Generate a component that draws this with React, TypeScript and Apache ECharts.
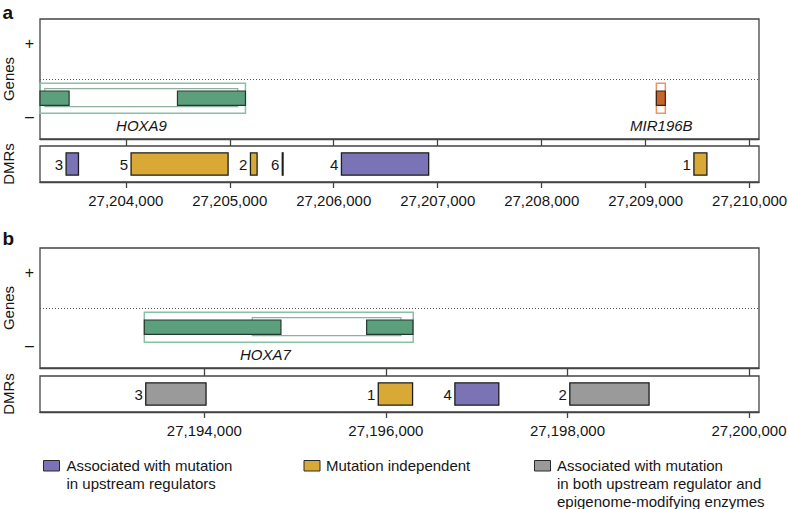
import React, { useEffect, useRef } from 'react';
import * as echarts from 'echarts';

// ---------- data ----------
const AXIS_A = [27203175, 27210090];
const TICKS_A = [27204000, 27205000, 27206000, 27207000, 27208000, 27209000, 27210000];
const AXIS_B = [27192190, 27200110];
const TICKS_B = [27194000, 27196000, 27198000, 27200000];

// gene parts: [start, end, kind, geneIndex]; kind 0 = locus, 1 = transcript, 2 = exon
const GENE_A_NAMES = ['HOXA9', 'MIR196B'];
const GENE_A_TYPE = [0, 1]; // 0 = protein coding, 1 = miRNA
const GENE_A_LABEL_POS = [27204151, 27209151];
const GENE_A_PARTS = [
  [27202900, 27205151, 0, 0],
  [27203221, 27205077, 1, 0],
  [27202900, 27203455, 2, 0],
  [27204497, 27205151, 2, 0],
  [27209103, 27209189, 0, 1],
  [27209103, 27209189, 2, 1],
];
const GENE_B_NAMES = ['HOXA7'];
const GENE_B_TYPE = [0];
const GENE_B_LABEL_POS = [27194672];
const GENE_B_PARTS = [
  [27193339, 27196301, 0, 0],
  [27194528, 27196166, 1, 0],
  [27193339, 27194844, 2, 0],
  [27195788, 27196298, 2, 0],
];

// DMRs
const DMR_A_IDS = ['3', '5', '2', '6', '4', '1'];
const DMR_A_START = [27203426, 27204051, 27205199, 27205505, 27206074, 27209464];
const DMR_A_END = [27203545, 27204984, 27205263, 27205512, 27206913, 27209589];
const DMR_A_CLASS = [0, 1, 1, 1, 0, 1];
const DMR_B_IDS = ['3', '1', '4', '2'];
const DMR_B_START = [27193355, 27195916, 27196760, 27198026];
const DMR_B_END = [27194019, 27196294, 27197244, 27198899];
const DMR_B_CLASS = [2, 1, 0, 2];

const CLASS_LABELS = [
  'Associated with mutation\nin upstream regulators',
  'Mutation independent',
  'Associated with mutation\nin both upstream regulator and\nepigenome-modifying enzymes',
];

// ---------- styles ----------
const FONT = '"Liberation Sans", Arial, Helvetica, sans-serif';
const TXT = '#161616';
const LINE = '#444444';
const CLASS_COLORS = ['#7a73b5', '#d9a935', '#9a9a9a'];
const GENE_FILL = ['#5b9f7c', '#c8632b'];
const GENE_OUTLINE = ['#86c2a4', '#e8956c'];
const GENE_INNER = ['#8fb09f', '#e8956c'];
const GENE_BORDER = ['#26392e', '#3b2417'];
const LEVELS = [
  [0.215, 0.465],
  [0.27, 0.42],
  [0.28, 0.4],
];

function geneRenderer(types: number[]) {
  return (params: any, api: any) => {
    const s = api.value(0);
    const e = api.value(1);
    const kind = api.value(2);
    const g = api.value(3);
    const t = types[g];
    const cs = params.coordSys;
    const [lo, hi] = LEVELS[kind];
    const a = api.coord([s, hi]);
    const b = api.coord([e, lo]);
    const x0 = Math.max(a[0], cs.x);
    const x1 = Math.min(b[0], cs.x + cs.width);
    if (x1 <= x0) return null;
    const shape = { x: x0, y: a[1], width: x1 - x0, height: b[1] - a[1] };
    if (kind === 0) {
      return { type: 'rect', shape, style: { fill: 'none', stroke: GENE_OUTLINE[t], lineWidth: 1.5 } };
    }
    if (kind === 1) {
      return { type: 'rect', shape, style: { fill: 'none', stroke: GENE_INNER[t], lineWidth: 1.1 } };
    }
    return { type: 'rect', shape, style: { fill: GENE_FILL[t], stroke: GENE_BORDER[t], lineWidth: 1.2 } };
  };
}

function labelRenderer(names: string[]) {
  return (params: any, api: any) => {
    const p = api.coord([api.value(0), 0.11]);
    return {
      type: 'text',
      x: p[0],
      y: p[1],
      style: {
        text: names[params.dataIndex],
        font: 'italic 15px ' + FONT,
        fill: TXT,
        align: 'center',
        verticalAlign: 'middle',
      },
    };
  };
}

function dmrRenderer(ids: string[], classes: number[]) {
  return (params: any, api: any) => {
    const i = params.dataIndex;
    const a = api.coord([api.value(0), 0.81]);
    const b = api.coord([api.value(1), 0.19]);
    const w = Math.max(b[0] - a[0], 0.8);
    return {
      type: 'group',
      children: [
        {
          type: 'rect',
          shape: { x: a[0], y: a[1], width: w, height: b[1] - a[1] },
          style: { fill: CLASS_COLORS[classes[i]], stroke: '#1e1e1e', lineWidth: 1.3 },
        },
        {
          type: 'text',
          x: a[0] - 3,
          y: (a[1] + b[1]) / 2,
          style: { text: ids[i], font: '15px ' + FONT, fill: TXT, align: 'right', verticalAlign: 'middle' },
        },
      ],
    };
  };
}

function xAxisFor(grid: number, range: number[], ticks: number[], labels: boolean, tickLen: number) {
  return {
    type: 'value',
    gridIndex: grid,
    min: range[0],
    max: range[1],
    position: 'bottom',
    axisLine: { show: true, lineStyle: { color: LINE, width: 1.3 } },
    splitLine: { show: false },
    axisTick: { show: true, inside: false, length: tickLen, customValues: ticks, lineStyle: { color: LINE, width: 1.3 } },
    axisLabel: {
      show: labels,
      customValues: ticks,
      margin: 11,
      fontSize: 15,
      fontFamily: FONT,
      color: TXT,
      formatter: (v: number) => Number(v).toLocaleString('en-US'),
    },
  };
}

function yGenes(grid: number) {
  return {
    type: 'value',
    gridIndex: grid,
    min: 0,
    max: 1,
    axisLine: { show: false },
    splitLine: { show: false },
    axisTick: { show: false },
    axisLabel: {
      show: true,
      customValues: [0.19, 0.8],
      margin: 6,
      fontSize: 16,
      fontFamily: FONT,
      color: TXT,
      formatter: (v: number) => (v > 0.5 ? '+' : '\u2013'),
    },
  };
}

function yDmr(grid: number) {
  return {
    type: 'value',
    gridIndex: grid,
    min: 0,
    max: 1,
    axisLine: { show: false },
    splitLine: { show: false },
    axisTick: { show: false },
    axisLabel: { show: false },
  };
}

const gridBase = { left: 40, width: 719, show: true, borderColor: LINE, borderWidth: 1.3, backgroundColor: 'transparent', containLabel: false, outerBoundsMode: 'none' };

const dotted = {
  silent: true,
  symbol: ['none', 'none'],
  label: { show: false },
  lineStyle: { type: [1, 2], color: '#555', width: 1 },
  emphasis: { disabled: true },
  data: [{ yAxis: 0.5 }],
};

function sideLabel(text: string, y: number) {
  return {
    type: 'text',
    x: 8.5,
    y,
    rotation: Math.PI / 2,
    style: { text, font: '15px ' + FONT, fill: TXT, align: 'center', verticalAlign: 'middle' },
  };
}

const LEGEND_SQ_X = [43.5, 304, 534.5];
const LEGEND_TX_X = [66.5, 326, 557];

const legendGraphics: any[] = [];
CLASS_LABELS.forEach((lab, i) => {
  legendGraphics.push({
    type: 'rect',
    shape: { x: LEGEND_SQ_X[i], y: 460.5, width: 16, height: 10.5 },
    style: { fill: CLASS_COLORS[i], stroke: '#2a2a2a', lineWidth: 1 },
  });
  legendGraphics.push({
    type: 'text',
    x: LEGEND_TX_X[i],
    y: 456.8,
    style: { text: lab, font: '15px ' + FONT, fill: TXT, lineHeight: 17.8, align: 'left', verticalAlign: 'top' },
  });
});

const option: any = {
  animation: false,
  backgroundColor: '#ffffff',
  textStyle: { fontFamily: FONT },
  grid: [
    { ...gridBase, top: 19, height: 120 },
    { ...gridBase, top: 146, height: 36 },
    { ...gridBase, top: 248, height: 120 },
    { ...gridBase, top: 376, height: 36 },
  ],
  xAxis: [
    xAxisFor(0, AXIS_A, TICKS_A, false, 7),
    xAxisFor(1, AXIS_A, TICKS_A, true, 6),
    xAxisFor(2, AXIS_B, TICKS_B, false, 8),
    xAxisFor(3, AXIS_B, TICKS_B, true, 6),
  ],
  yAxis: [yGenes(0), yDmr(1), yGenes(2), yDmr(3)],
  series: [
    {
      type: 'custom',
      name: 'Genes a',
      xAxisIndex: 0,
      yAxisIndex: 0,
      renderItem: geneRenderer(GENE_A_TYPE),
      encode: { x: [0, 1] },
      data: GENE_A_PARTS,
      markLine: dotted,
      silent: true,
    },
    {
      type: 'custom',
      name: 'Gene names a',
      xAxisIndex: 0,
      yAxisIndex: 0,
      renderItem: labelRenderer(GENE_A_NAMES),
      encode: { x: 0 },
      data: GENE_A_LABEL_POS.map((p) => [p, 0]),
      silent: true,
    },
    {
      type: 'custom',
      name: 'DMRs a',
      xAxisIndex: 1,
      yAxisIndex: 1,
      renderItem: dmrRenderer(DMR_A_IDS, DMR_A_CLASS),
      encode: { x: [0, 1] },
      data: DMR_A_START.map((s, i) => [s, DMR_A_END[i]]),
      silent: true,
    },
    {
      type: 'custom',
      name: 'Genes b',
      xAxisIndex: 2,
      yAxisIndex: 2,
      renderItem: geneRenderer(GENE_B_TYPE),
      encode: { x: [0, 1] },
      data: GENE_B_PARTS,
      markLine: dotted,
      silent: true,
    },
    {
      type: 'custom',
      name: 'Gene names b',
      xAxisIndex: 2,
      yAxisIndex: 2,
      renderItem: labelRenderer(GENE_B_NAMES),
      encode: { x: 0 },
      data: GENE_B_LABEL_POS.map((p) => [p, 0]),
      silent: true,
    },
    {
      type: 'custom',
      name: 'DMRs b',
      xAxisIndex: 3,
      yAxisIndex: 3,
      renderItem: dmrRenderer(DMR_B_IDS, DMR_B_CLASS),
      encode: { x: [0, 1] },
      data: DMR_B_START.map((s, i) => [s, DMR_B_END[i]]),
      silent: true,
    },
  ],
  graphic: [
    { type: 'text', x: 2.5, y: 12.8, style: { text: 'a', font: 'bold 19px ' + FONT, fill: '#111', align: 'left', verticalAlign: 'middle' } },
    { type: 'text', x: 2.5, y: 238.8, style: { text: 'b', font: 'bold 19px ' + FONT, fill: '#111', align: 'left', verticalAlign: 'middle' } },
    sideLabel('Genes', 79),
    sideLabel('DMRs', 164),
    sideLabel('Genes', 308),
    sideLabel('DMRs', 394),
    ...legendGraphics,
  ],
};

export default function App() {
  const ref = useRef<HTMLDivElement>(null);
  useEffect(() => {
    const chart = echarts.init(ref.current as HTMLDivElement, null, { renderer: 'svg' });
    chart.setOption(option);
    return () => chart.dispose();
  }, []);
  return (
    <div
      ref={ref}
      style={{ position: 'fixed', left: 0, top: 0, width: 788, height: 509, background: '#ffffff' }}
    />
  );
}
